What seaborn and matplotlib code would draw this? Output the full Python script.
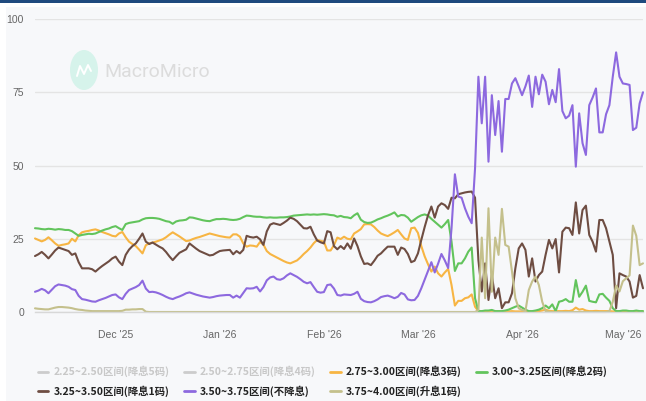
import pandas as pd
import matplotlib
matplotlib.use("Agg")
import matplotlib.pyplot as plt
import matplotlib.dates as mdates
from matplotlib.lines import Line2D
from matplotlib.patches import Ellipse, Rectangle
from matplotlib.font_manager import FontProperties, fontManager
import seaborn as sns

# ------------------------------------------------
# Data: daily probabilities (%) per target range
# ------------------------------------------------
START = "2025-11-07"

p_275_300 = [
    25.1, 24.6, 24.1, 24.6, 25.5, 24.5, 23.4, 22.6, 22.9, 23.1,
    23.4, 25.0, 24.1, 26.2, 27.2, 27.5, 27.7, 28.0, 28.2, 27.8,
    27.3, 26.9, 26.5, 26.0, 25.8, 26.8, 27.3, 25.5, 24.0, 23.2,
    22.5, 21.3, 20.0, 22.8, 23.4, 23.7, 24.0, 24.4, 24.8, 25.5,
    26.4, 27.2, 26.5, 25.8, 25.0, 24.2, 24.4, 24.9, 25.3, 25.6,
    26.0, 26.4, 26.8, 26.5, 26.2, 25.9, 25.7, 25.5, 25.4, 26.5,
    26.5, 25.7, 23.4, 22.3, 22.7, 22.6, 22.3, 23.9, 23.0, 20.8,
    19.8, 19.2, 18.6, 18.0, 17.4, 16.9, 16.6, 17.1, 17.6, 18.6,
    19.8, 20.8, 22.0, 23.5, 24.6, 24.3, 24.0, 21.0, 21.0, 22.8,
    25.4, 24.9, 25.7, 25.0, 24.8, 26.8, 27.5, 28.3, 29.9, 30.0,
    29.9, 29.0, 27.8, 26.8, 26.3, 25.9, 26.5, 27.2, 28.0, 26.5,
    25.1, 24.6, 28.6, 28.8, 27.0, 22.5, 19.0, 16.3, 13.8, 15.5,
    13.2, 12.1, 13.5, 14.7, 9.2, 2.2, 3.8, 3.8, 4.7, 5.0,
    6.0, 1.8, 0.3, 0.2, 0.2, 0.2, 0.3, 0.2, 0.2, 0.2,
    0.2, 0.2, 0.3, 0.2, 0.2, 0.2, 0.3, 0.2, 0.2, 0.3,
    0.3, 0.5, 0.8, 0.4, 0.3, 0.3, 0.3, 0.3, 0.4, 0.3,
    0.6, 1.5, 0.8, 1.0, 0.5, 0.3, 0.3, 0.4, 0.3, 0.3,
    0.3, 0.3, 0.2, 0.2, 0.2, 0.2, 0.2, 0.2, 0.2, 0.2,
    0.2, 0.2,
]

p_300_325 = [
    28.6, 28.5, 28.3, 28.2, 28.4, 28.3, 28.1, 28.3, 28.2, 28.0,
    28.0, 27.6, 26.8, 26.0, 26.3, 26.5, 26.7, 26.6, 26.8, 27.3,
    27.8, 28.2, 28.5, 29.0, 29.3, 28.6, 28.0, 30.0, 30.4, 30.6,
    30.8, 31.0, 31.6, 32.0, 32.1, 32.1, 32.0, 31.8, 31.4, 31.0,
    30.8, 30.1, 30.9, 31.2, 31.3, 31.5, 32.3, 32.2, 31.9, 31.6,
    31.3, 31.1, 31.0, 31.4, 31.7, 31.7, 31.8, 31.7, 31.5, 31.4,
    31.5, 31.8, 32.4, 32.9, 32.8, 32.6, 32.5, 32.5, 32.3, 32.2,
    32.3, 32.2, 32.2, 32.3, 32.3, 32.4, 32.6, 32.9, 33.0, 33.1,
    33.2, 33.3, 33.2, 33.3, 33.2, 33.3, 33.4, 33.3, 33.1, 33.0,
    32.5, 32.8, 32.4, 32.3, 32.0, 33.0, 33.7, 31.5, 30.7, 30.4,
    30.5, 31.0, 31.6, 32.0, 32.5, 32.9, 33.4, 34.0, 32.6, 33.1,
    33.0, 32.2, 30.8, 31.6, 32.4, 33.0, 33.3, 32.9, 31.8, 30.8,
    29.8, 28.8, 30.0, 31.4, 24.0, 14.0, 16.6, 16.6, 18.3, 20.6,
    22.0, 4.7, 0.3, 0.3, 0.5, 0.5, 0.7, 0.3, 0.3, 0.3,
    0.5, 0.8, 1.3, 1.8, 2.2, 1.5, 0.8, 0.3, 0.3, 0.5,
    0.8, 1.3, 2.2, 1.3, 2.6, 0.3, 3.5, 3.8, 4.4, 3.5,
    3.5, 10.9, 5.2, 6.9, 9.0, 3.8, 3.5, 3.3, 6.0, 6.2,
    4.9, 3.8, 1.3, 0.3, 0.3, 0.5, 0.5, 0.3, 0.3, 0.5,
    0.3, 0.3,
]

p_325_350 = [
    19.1, 19.7, 20.5, 19.5, 18.3, 19.6, 21.0, 22.0, 21.6, 21.2,
    20.8, 19.5, 20.0, 17.0, 14.9, 14.9, 14.9, 14.6, 13.8, 14.8,
    15.7, 16.5, 17.3, 18.3, 18.9, 17.2, 16.0, 19.5, 21.3, 22.5,
    23.4, 25.0, 26.8, 24.0, 23.2, 23.7, 23.0, 22.3, 21.7, 20.5,
    19.0, 17.7, 19.0, 20.2, 20.8, 21.4, 23.4, 22.5, 21.6, 20.8,
    20.3, 19.8, 19.3, 19.5, 20.2, 20.8, 21.0, 21.1, 21.2, 19.7,
    20.8, 20.0, 21.2, 26.0, 25.6, 25.4, 25.7, 24.8, 22.9, 27.5,
    29.8, 30.3, 30.0, 29.7, 30.4, 31.2, 32.2, 31.8, 31.0, 29.8,
    28.6, 28.5, 29.1, 26.5, 24.4, 23.8, 23.4, 27.6, 27.2, 22.5,
    21.4, 22.5, 21.5, 23.4, 21.6, 25.1, 22.5, 19.0, 16.4, 16.6,
    16.0, 17.5, 19.2, 20.0, 21.2, 22.3, 22.3, 22.3, 19.5, 22.0,
    21.5, 19.8, 17.0, 17.5, 20.0, 24.6, 29.0, 33.0, 36.0, 32.2,
    36.0, 37.1, 36.5, 35.2, 39.0, 38.8, 40.2, 40.5, 40.8, 41.0,
    41.1, 39.0, 17.7, 7.0, 16.6, 4.1, 12.6, 4.7, 8.1, 1.3,
    3.3, 3.3, 6.4, 14.9, 21.7, 23.4, 21.2, 12.1, 18.3, 10.4,
    12.6, 13.8, 19.5, 24.6, 21.7, 24.9, 13.5, 27.4, 28.8, 28.6,
    26.3, 37.4, 26.8, 34.8, 36.3, 26.3, 24.0, 20.6, 31.4, 31.4,
    28.6, 24.0, 19.5, 1.3, 13.2, 12.6, 12.1, 10.4, 4.9, 5.5,
    12.6, 8.1,
]

p_350_375 = [
    6.9, 7.3, 7.9, 7.4, 6.4, 7.6, 8.8, 9.4, 9.2, 9.0,
    8.6, 7.8, 7.5, 5.5, 4.4, 4.2, 3.9, 3.6, 3.5, 4.0,
    4.4, 4.8, 5.3, 5.8, 6.0, 5.0, 4.4, 6.2, 7.5, 8.0,
    8.5, 9.2, 10.7, 8.0, 6.8, 6.9, 6.7, 6.3, 5.8, 5.2,
    4.7, 4.4, 4.9, 5.3, 5.8, 6.4, 6.7, 6.3, 5.9, 5.6,
    5.3, 5.1, 4.9, 5.1, 5.4, 5.6, 5.7, 5.8, 5.8, 4.9,
    5.6, 4.9, 6.5, 8.1, 8.0, 8.1, 8.6, 7.0, 8.5, 10.8,
    11.8, 12.1, 11.2, 11.0, 11.5, 12.5, 13.2, 12.6, 12.0, 11.2,
    10.3, 9.8, 10.2, 8.5, 6.9, 6.6, 6.8, 9.2, 9.4, 8.0,
    5.8, 5.6, 6.0, 5.9, 5.8, 6.2, 6.9, 4.5, 3.7, 3.4,
    3.3, 3.7, 4.3, 5.1, 5.4, 5.6, 5.2, 4.7, 5.2, 6.5,
    6.0, 4.3, 4.0, 4.1, 5.5, 8.1, 11.0, 14.0, 17.0, 13.5,
    16.5, 19.8, 17.6, 15.0, 28.6, 47.0, 39.4, 39.0, 35.4, 32.5,
    30.3, 49.0, 80.3, 64.4, 80.3, 51.3, 74.0, 60.4, 72.0, 54.7,
    72.7, 72.7, 78.0, 79.8, 77.0, 74.0, 77.0, 80.7, 70.0, 80.3,
    74.3, 81.0, 78.6, 70.9, 75.8, 71.6, 82.9, 68.6, 66.1, 67.0,
    70.6, 49.6, 67.8, 57.6, 53.6, 70.6, 73.2, 76.3, 61.3, 61.3,
    67.5, 70.6, 80.3, 88.6, 80.3, 78.0, 77.8, 77.5, 62.1, 62.9,
    71.2, 75.0,
]

p_375_400 = [
    1.25, 1.1, 1.0, 0.9, 0.9, 1.2, 1.5, 1.7, 1.7, 1.6,
    1.5, 1.3, 1.0, 0.8, 0.7, 0.5, 0.4, 0.3, 0.3, 0.3,
    0.3, 0.3, 0.3, 0.3, 0.3, 0.3, 0.4, 0.8, 0.8, 0.9,
    0.9, 1.0, 1.0, 0.1, 0.0, 0.0, 0.0, 0.0, 0.0, 0.0,
    0.0, 0.0, 0.0, 0.0, 0.0, 0.0, 0.0, 0.0, 0.0, 0.0,
    0.0, 0.0, 0.0, 0.0, 0.0, 0.0, 0.0, 0.0, 0.0, 0.0,
    0.0, 0.0, 0.0, 0.0, 0.0, 0.0, 0.0, 0.0, 0.0, 0.0,
    0.0, 0.0, 0.0, 0.0, 0.0, 0.0, 0.0, 0.0, 0.0, 0.0,
    0.0, 0.0, 0.0, 0.0, 0.0, 0.0, 0.0, 0.0, 0.0, 0.0,
    0.0, 0.0, 0.0, 0.0, 0.0, 0.0, 0.0, 0.0, 0.0, 0.0,
    0.0, 0.0, 0.0, 0.0, 0.0, 0.0, 0.0, 0.0, 0.0, 0.0,
    0.0, 0.0, 0.0, 0.0, 0.0, 0.0, 0.0, 0.0, 0.0, 0.0,
    0.0, 0.0, 0.0, 0.0, 0.0, 0.0, 0.0, 0.0, 0.0, 0.0,
    0.0, 0.0, 0.7, 25.4, 4.7, 35.4, 6.9, 25.4, 19.5, 35.2,
    22.9, 22.3, 13.8, 4.7, 1.25, 0.7, 0.3, 7.5, 10.4, 12.1,
    9.2, 3.5, 0.3, 0.1, 0.0, 0.0, 0.0, 0.0, 0.0, 0.0,
    0.0, 0.0, 0.0, 0.0, 0.0, 0.0, 0.0, 0.0, 0.0, 0.0,
    0.0, 0.3, 3.5, 9.0, 7.0, 10.5, 11.5, 12.5, 29.5, 26.0,
    16.0, 16.6,
]

labels = [
    "2.25~2.50区间(降息5码)",
    "2.50~2.75区间(降息4码)",
    "2.75~3.00区间(降息3码)",
    "3.00~3.25区间(降息2码)",
    "3.25~3.50区间(降息1码)",
    "3.50~3.75区间(不降息)",
    "3.75~4.00区间(升息1码)",
]
colors = ["#cccccc", "#cccccc", "#f7b543", "#62c45c", "#6e4d42", "#8d69df", "#c4c08c"]
text_colors = ["#c8c8c8", "#c8c8c8", "#222222", "#222222", "#222222", "#222222", "#222222"]

dates = pd.date_range(START, periods=len(p_275_300), freq="D")

wide = pd.DataFrame({
    "date": dates,
    labels[2]: p_275_300,
    labels[3]: p_300_325,
    labels[4]: p_325_350,
    labels[5]: p_350_375,
    labels[6]: p_375_400,
})
df = wide.melt(id_vars="date", var_name="range", value_name="prob")

# ------------------------------------------------
# Plot
# ------------------------------------------------
sns.set_theme(style="white")
plt.rcParams["font.family"] = ["Noto Sans CJK SC", "DejaVu Sans"]

names = {f.name for f in fontManager.ttflist}
TICK_FONT = "Liberation Sans Narrow" if "Liberation Sans Narrow" in names else "Liberation Sans"

PANEL = "#f7f8fa"
W, H = 646, 401

fig = plt.figure(figsize=(W / 100, H / 100), dpi=100)
fig.patch.set_facecolor("white")
fig.patches.append(Rectangle((6 / W, 0), 1, 1 - 7 / H, transform=fig.transFigure,
                             facecolor=PANEL, edgecolor="none", zorder=-10))
fig.patches.append(Rectangle((0, 1 - 3 / H), 1, 3 / H, transform=fig.transFigure,
                             facecolor="#1f4a7e", edgecolor="none", zorder=-9))

# watermark
fig.patches.append(Ellipse((84 / W, 1 - 70 / H), 28 / W, 40 / H, transform=fig.transFigure,
                           facecolor="#d6f3eb", edgecolor="none", zorder=-5))
fig.lines.append(Line2D([77 / W, 80 / W, 84 / W, 88 / W, 91 / W],
                        [1 - 76 / H, 1 - 66 / H, 1 - 74 / H, 1 - 65 / H, 1 - 71 / H],
                        transform=fig.transFigure, color="white", lw=1.4, zorder=-4))
fig.text(104 / W, 1 - 72 / H, "MacroMicro", color="#dcdcdc", fontsize=14,
         family="Roboto", va="center", ha="left", zorder=-5)

ax = fig.add_axes([35 / W, 89 / H, 608 / W, 293 / H])
ax.set_facecolor("none")

sns.lineplot(
    data=df, x="date", y="prob", hue="range",
    hue_order=labels[2:], palette=colors[2:],
    linewidth=1.5, legend=False, ax=ax,
)
for line in ax.lines:
    line.set_clip_on(False)

ax.set_xlim(dates[0], dates[-1])
ax.set_ylim(0, 100)
ax.set_yticks([0, 25, 50, 75, 100])
ax.yaxis.grid(True, color="#e4e4e4", lw=1)
ax.xaxis.grid(False)
ax.set_axisbelow(True)
for side in ["top", "right", "left"]:
    ax.spines[side].set_visible(False)
ax.spines["bottom"].set_color("#d8d8d8")
ax.spines["bottom"].set_linewidth(1)

ax.xaxis.set_major_locator(mdates.MonthLocator(bymonthday=1))
ax.xaxis.set_major_formatter(mdates.DateFormatter("%b '%y"))
ax.tick_params(axis="x", length=7, width=0.8, color="#d8d8d8", pad=6,
               labelsize=7.5, labelcolor="#666666", labelfontfamily=TICK_FONT)
ax.tick_params(axis="y", length=0, pad=8, labelsize=7.5, labelcolor="#666666",
               labelfontfamily=TICK_FONT)
ax.set_xlabel("")
ax.set_ylabel("")

# legend: row-wise order for a 4-column layout
handles = [Line2D([], [], color=c, lw=2) for c in colors]
order = [0, 4, 1, 5, 2, 6, 3]
leg = fig.legend(
    [handles[i] for i in order], [labels[i] for i in order],
    ncol=4, loc="upper left", bbox_to_anchor=(38 / W, 1 - 366 / H),
    frameon=False,
    prop=FontProperties(family=["Noto Sans CJK SC", "DejaVu Sans"], weight="bold", size=7.5),
    handlelength=1.0, handletextpad=0.5, columnspacing=1.4,
    labelspacing=0.75, borderpad=0, borderaxespad=0,
)
for t, i in zip(leg.get_texts(), order):
    t.set_color(text_colors[i])

fig.savefig("out.png", dpi=100)
plt.close(fig)
